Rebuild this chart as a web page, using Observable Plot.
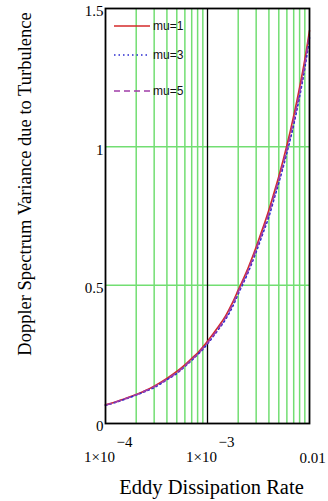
<!DOCTYPE html>
<html>
<head>
<meta charset="utf-8">
<script src="https://cdn.jsdelivr.net/npm/d3@7"></script>
<script src="https://cdn.jsdelivr.net/npm/@observablehq/plot@0.6"></script>
<style>
  html, body { margin: 0; padding: 0; background: #fff; }
  #chart { position: relative; width: 328px; height: 501px; }
  #legend { position: absolute; left: 0; top: 0; pointer-events: none; }
</style>
</head>
<body>
<div id="chart"></div>
<script>
// Eddy dissipation rate (x, log scale)
const epsilon = [1e-4, 1.25e-4, 1.5e-4, 2e-4, 2.5e-4, 3e-4, 4e-4, 5e-4, 6e-4, 7e-4, 8e-4, 9e-4, 1e-3,
                 1.25e-3, 1.5e-3, 1.75e-3, 2e-3, 2.5e-3, 3e-3, 3.5e-3, 4e-3, 4.5e-3, 5e-3,
                 6e-3, 7e-3, 8e-3, 9e-3, 1e-2];
// Doppler spectrum variance due to turbulence, per mu
const mu1 = [0.068, 0.078, 0.088, 0.105, 0.120, 0.135, 0.163, 0.188, 0.212, 0.235, 0.255, 0.276, 0.297,
             0.345, 0.388, 0.435, 0.482, 0.562, 0.638, 0.708, 0.772, 0.835, 0.893,
             1.005, 1.112, 1.215, 1.315, 1.420];
const mu3 = [0.066, 0.076, 0.086, 0.103, 0.117, 0.130, 0.158, 0.181, 0.206, 0.228, 0.249, 0.268, 0.288,
             0.335, 0.376, 0.420, 0.468, 0.546, 0.620, 0.688, 0.748, 0.812, 0.870,
             0.978, 1.080, 1.182, 1.285, 1.395];
const mu5 = [0.067, 0.077, 0.087, 0.104, 0.119, 0.133, 0.160, 0.184, 0.208, 0.231, 0.251, 0.272, 0.292,
             0.339, 0.382, 0.428, 0.476, 0.554, 0.630, 0.698, 0.760, 0.824, 0.882,
             0.992, 1.095, 1.198, 1.300, 1.408];
const seriesNames = ["mu=1", "mu=3", "mu=5"];
const seriesColors = ["#d42a2a", "#2a2ad0", "#a03ca8"];
const seriesDash = ["none", "1.5,3", "6,4"];

const yTicks = [0, 0.5, 1, 1.5];
const yGrid = [0.5, 1];
const xGridMinor = [2e-4, 3e-4, 4e-4, 5e-4, 6e-4, 7e-4, 8e-4, 9e-4,
                    2e-3, 3e-3, 4e-3, 5e-3, 6e-3, 7e-3, 8e-3, 9e-3];
const xGridMajor = [1e-3];
const xPowerTicks = [1e-4, 1e-3];
const xPowerExps = ["\u22124", "\u22123"];
const xPlainTicks = [1e-2];
const xPlainLabels = ["0.01"];
const xTitle = "Eddy Dissipation Rate";
const yTitle = "Doppler Spectrum Variance due to Turbulence";

const allSeries = [mu1, mu3, mu5];
const data = allSeries.flatMap((vals, s) =>
  vals.map((v, i) => ({x: epsilon[i], y: v, series: seriesNames[s]})));

const serif = "'Liberation Serif', 'Times New Roman', serif";
const green = "#72de72";

const chart = Plot.plot({
  width: 328,
  height: 501,
  marginLeft: 105,
  marginRight: 19,
  marginTop: 8,
  marginBottom: 78,
  style: {background: "#fff", fontFamily: serif, overflow: "visible"},
  x: {type: "log", domain: [1e-4, 1e-2], axis: null},
  y: {domain: [0, 1.5], axis: null},
  marks: [
    Plot.ruleX(xGridMinor, {stroke: green, strokeWidth: 1.5}),
    Plot.ruleY(yGrid, {stroke: green, strokeWidth: 1.5}),
    Plot.ruleX(xGridMajor, {stroke: "#000", strokeWidth: 1.3}),
    ...seriesNames.map((name, s) =>
      Plot.line(data.filter(d => d.series === name), {
        x: "x", y: "y",
        stroke: seriesColors[s],
        strokeWidth: 1.6,
        curve: "monotone-x",
        strokeDasharray: seriesDash[s] === "none" ? null : seriesDash[s]
      })),
    Plot.frame({stroke: "#000", strokeWidth: 1.8}),
    Plot.axisY(yTicks, {
      tickSize: 0, tickPadding: 2, fontSize: 15, fontFamily: serif,
      tickFormat: d => String(d), label: null, dy: 3
    }),
    Plot.text(xPowerTicks, {
      x: d => d, frameAnchor: "bottom", text: () => "1\u00d710",
      dx: -6, dy: 34, fontSize: 15, fontFamily: serif, lineAnchor: "middle"
    }),
    Plot.text(xPowerTicks, {
      x: d => d, frameAnchor: "bottom", text: (d, i) => xPowerExps[i],
      dx: 19, dy: 19, fontSize: 15, fontFamily: serif, lineAnchor: "middle"
    }),
    Plot.text(xPlainTicks, {
      x: d => d, frameAnchor: "bottom", text: (d, i) => xPlainLabels[i],
      dx: 3, dy: 35, fontSize: 15, fontFamily: serif, lineAnchor: "middle"
    }),
    Plot.text([xTitle], {
      frameAnchor: "bottom", dx: 4, dy: 64, fontSize: 20.5, fontFamily: serif,
      lineAnchor: "middle", textAnchor: "middle"
    }),
    Plot.text([yTitle], {
      frameAnchor: "left", rotate: -90, dx: -80, dy: -32, fontSize: 18.5,
      fontFamily: serif, lineAnchor: "middle", textAnchor: "middle"
    })
  ]
});
document.getElementById("chart").appendChild(chart);

// Legend overlay (inside the plot frame, top-left)
const legendRows = [26, 55, 91];
const legend = d3.select("#chart").append("svg")
  .attr("id", "legend").attr("width", 328).attr("height", 120);
seriesNames.forEach((name, s) => {
  const g = legend.append("g").attr("transform", `translate(0,${legendRows[s]})`);
  g.append("line").attr("x1", 114).attr("x2", 150).attr("y1", 0).attr("y2", 0)
    .attr("stroke", seriesColors[s]).attr("stroke-width", 1.4)
    .attr("stroke-dasharray", seriesDash[s] === "none" ? null : seriesDash[s]);
  g.append("text").attr("x", 153).attr("y", 0).attr("dy", "0.35em")
    .attr("font-family", "'Liberation Sans', Arial, sans-serif").attr("font-size", 12)
    .attr("fill", "#111").text(name);
});
</script>
</body>
</html>
